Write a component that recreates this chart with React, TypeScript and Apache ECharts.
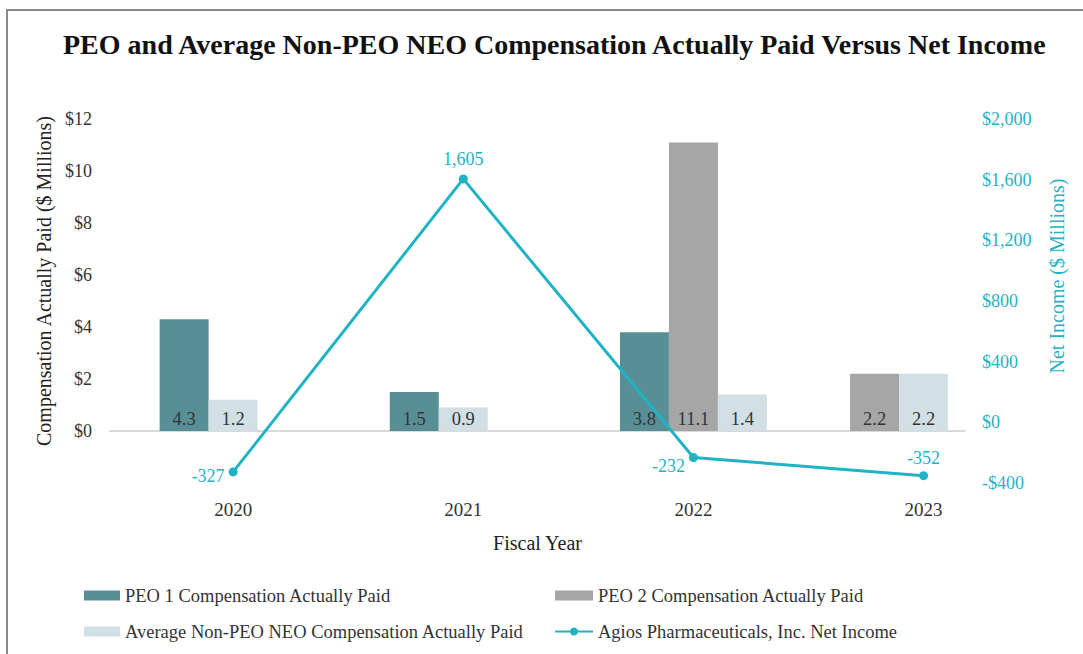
import React, { useEffect, useRef } from 'react';
import * as echarts from 'echarts';

// ---------- data ----------
const fiscalYears = [2020, 2021, 2022, 2023];
const peo1Cap: (number | null)[] = [4.3, 1.5, 3.8, null];
const peo2Cap: (number | null)[] = [null, null, 11.1, 2.2];
const avgNonPeoCap: (number | null)[] = [1.2, 0.9, 1.4, 2.2];
const netIncome = [-327, 1605, -232, -352];

const compAxis = { min: -2, max: 12, interval: 2 };
const incomeAxis = { min: -400, max: 2000, interval: 400 };

const NAME_PEO1 = 'PEO 1 Compensation Actually Paid';
const NAME_PEO2 = 'PEO 2 Compensation Actually Paid';
const NAME_AVG = 'Average Non-PEO NEO Compensation Actually Paid';
const NAME_NI = 'Agios Pharmaceuticals, Inc. Net Income';
const TITLE = 'PEO and Average Non-PEO NEO Compensation Actually Paid Versus Net Income';

// ---------- style ----------
const FONT = '"Liberation Serif", "Times New Roman", serif';
const C_PEO1 = '#588f96';
const C_PEO2 = '#a6a6a6';
const C_AVG = '#d2e0e6';
const C_NI = '#1fb3c4';
const BAR_W = 49;
const niLabelPlacement = [
  { position: 'left', offset: [0, 4] },
  { position: 'top', offset: [0, -2] },
  { position: 'left', offset: [0, 8] },
  { position: 'top', offset: [0, 0] },
];

const barGroups = [peo1Cap, peo2Cap, avgNonPeoCap];
function slotOf(g: number, i: number) {
  let k = 0;
  for (let j = 0; j < g; j++) if (barGroups[j][i] != null) k++;
  return k;
}
function barData(g: number) {
  const out: number[][] = [];
  fiscalYears.forEach((y, i) => {
    const v = barGroups[g][i];
    if (v != null) out.push([y, v, slotOf(g, i)]);
  });
  return out;
}

function renderBar(params: any, api: any) {
  const x = api.value(0);
  const v = api.value(1);
  const slot = api.value(2);
  const base = api.coord([x, 0]);
  const top = api.coord([x, v]);
  const left = base[0] + (slot - 1.5) * BAR_W;
  return {
    type: 'group',
    children: [
      {
        type: 'rect',
        shape: { x: left, y: top[1], width: BAR_W, height: base[1] - top[1] },
        style: { fill: api.visual('color') },
      },
      {
        type: 'text',
        x: left + BAR_W / 2,
        y: base[1] - 3,
        style: {
          text: v.toFixed(1),
          align: 'center',
          verticalAlign: 'bottom',
          fill: '#333',
          fontSize: 18.5,
          fontFamily: FONT,
        },
      },
    ],
  };
}

export default function App() {
  const ref = useRef<HTMLDivElement>(null);
  useEffect(() => {
    if (!ref.current) return;
    const chart = echarts.init(ref.current, undefined, { renderer: 'svg' });
    const barSeries = [NAME_PEO1, NAME_PEO2, NAME_AVG].map((name, g) => ({
      name,
      type: 'custom',
      xAxisIndex: 0,
      yAxisIndex: 0,
      itemStyle: { color: [C_PEO1, C_PEO2, C_AVG][g] },
      encode: { x: 0, y: 1 },
      data: barData(g),
      renderItem: renderBar,
      z: 2,
    }));
    chart.setOption({
      animation: false,
      backgroundColor: '#fff',
      textStyle: { fontFamily: FONT },
      title: {
        text: TITLE,
        left: 58,
        top: 25,
        textStyle: { fontFamily: FONT, fontSize: 28, fontWeight: 'bold', color: '#111' },
      },
      graphic: [
        {
          type: 'rect',
          shape: { x: 7, y: 10, width: 1200, height: 800 },
          style: { fill: 'none', stroke: '#8a8a8a', lineWidth: 2 },
          silent: true,
        },
      ],
      grid: { left: 110, right: 118, top: 119, bottom: 171 },
      legend: [
        {
          data: [
            { name: NAME_PEO1, icon: 'rect' },
            { name: NAME_AVG, icon: 'rect' },
          ],
          orient: 'vertical',
          left: 79,
          top: 581,
          itemWidth: 36,
          itemHeight: 10,
          itemGap: 17,
          textStyle: { fontFamily: FONT, fontSize: 18.5, color: '#333' },
        },
        {
          data: [{ name: NAME_PEO2, icon: 'rect' }, { name: NAME_NI }],
          orient: 'vertical',
          left: 549,
          top: 581,
          itemWidth: 38,
          itemHeight: 10,
          itemGap: 17,
          textStyle: { fontFamily: FONT, fontSize: 18.5, color: '#333' },
        },
      ],
      xAxis: {
        type: 'value',
        min: 2019.465,
        max: 2023.18,
        axisLine: { onZero: true, onZeroAxisIndex: 0, lineStyle: { color: '#d9d9d9', width: 2 } },
        axisTick: { show: false },
        splitLine: { show: false },
        axisLabel: {
          margin: 17,
          showMinLabel: false,
          showMaxLabel: false,
          fontFamily: FONT,
          fontSize: 19,
          color: '#333',
          formatter: (v: number) => (Number.isInteger(v) && fiscalYears.includes(v) ? String(v) : ''),
        },
        name: 'Fiscal Year',
        nameLocation: 'middle',
        nameGap: 50,
        nameTextStyle: { fontFamily: FONT, fontSize: 20, color: '#222' },
      },
      yAxis: [
        {
          type: 'value',
          position: 'left',
          min: compAxis.min,
          max: compAxis.max,
          interval: compAxis.interval,
          axisLine: { show: false },
          axisTick: { show: false },
          splitLine: { show: false },
          axisLabel: {
            margin: 18,
            fontFamily: FONT,
            fontSize: 18,
            color: '#333',
            formatter: (v: number) => (v < 0 ? '' : '$' + v),
          },
          name: 'Compensation Actually Paid ($ Millions)',
          nameLocation: 'middle',
          nameRotate: 90,
          nameGap: 55,
          nameTextStyle: { fontFamily: FONT, fontSize: 20, color: '#222', padding: [0, 0, 0, 40] },
        },
        {
          type: 'value',
          position: 'right',
          min: incomeAxis.min,
          max: incomeAxis.max,
          interval: incomeAxis.interval,
          axisLine: { show: false },
          axisTick: { show: false },
          splitLine: { show: false },
          axisLabel: {
            margin: 17,
            fontFamily: FONT,
            fontSize: 18,
            color: C_NI,
            formatter: (v: number) => (v < 0 ? '-' : '') + '$' + Math.abs(v).toLocaleString('en-US'),
          },
          name: 'Net Income ($ Millions)',
          nameLocation: 'middle',
          nameRotate: 90,
          nameGap: 82,
          nameTextStyle: { fontFamily: FONT, fontSize: 20, color: C_NI, padding: [0, 0, 0, 50] },
        },
      ],
      series: [
        ...barSeries,
        {
          name: NAME_NI,
          type: 'line',
          xAxisIndex: 0,
          yAxisIndex: 1,
          z: 5,
          symbol: 'circle',
          symbolSize: 9,
          itemStyle: { color: C_NI },
          lineStyle: { color: C_NI, width: 3 },
          data: fiscalYears.map((y, i) => ({
            value: [y, netIncome[i]],
            label: {
              show: true,
              position: niLabelPlacement[i].position,
              offset: niLabelPlacement[i].offset,
            },
          })),
          label: {
            show: true,
            fontFamily: FONT,
            fontSize: 18,
            color: C_NI,
            distance: 4,
            formatter: (p: any) => p.value[1].toLocaleString('en-US'),
          },
        },
      ],
    });
    return () => chart.dispose();
  }, []);
  return (
    <div
      ref={ref}
      style={{ position: 'fixed', left: 0, top: 0, width: 1083, height: 654, background: '#fff' }}
    />
  );
}
